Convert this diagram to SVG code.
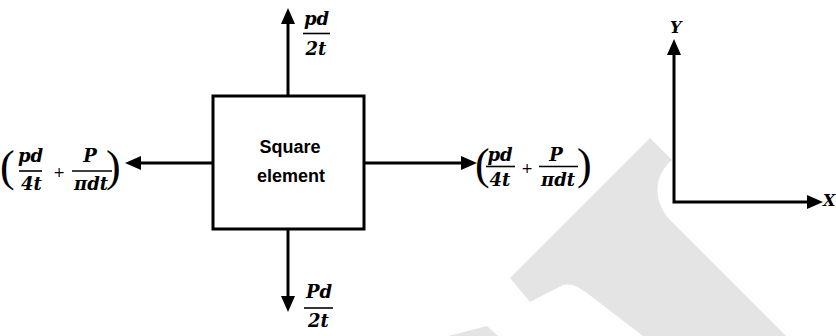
<svg xmlns="http://www.w3.org/2000/svg" width="836" height="336" viewBox="0 0 836 336">
<defs>
<style>
.ln{stroke:#000;stroke-width:3;fill:none}
.fr{stroke:#000;stroke-width:1.6}
.m{font-family:"DejaVu Serif","Liberation Serif",serif;font-weight:bold;font-style:italic;font-size:18px;fill:#000;text-anchor:middle}
.pl{font-family:"DejaVu Sans","Liberation Sans",sans-serif;font-size:14px;fill:#000;text-anchor:middle}
.par{font-family:"Liberation Serif","DejaVu Serif",serif;font-size:44px;fill:#000}
.lbl{font-family:"Liberation Sans","Arial",sans-serif;font-weight:bold;font-size:18px;fill:#000;text-anchor:middle}
.ax{font-family:"DejaVu Serif","Liberation Serif",serif;font-weight:bold;font-style:italic;font-size:16px;fill:#000}
</style>
<marker id="ah" viewBox="0 0 16 14" refX="0" refY="7" markerWidth="16" markerHeight="14" markerUnits="userSpaceOnUse" orient="auto-start-reverse">
<path d="M0,0 L16,7 L0,14 z" fill="#000"/>
</marker>
</defs>
<g id="watermark" fill="#e4e4e4">
<path d="M650,138 L672,160 C654,175 652,200 670,220 L786,336 L643,336 L587,293 C578,286 570,283 563,285 L530,302 L510,278 Z"/>
<path d="M448,336 L487,326 L498,336 Z"/>
</g>
<g id="connectors">
<path class="ln" d="M288,96 L288,24" marker-end="url(#ah)"/>
<path class="ln" d="M288,229 L288,296" marker-end="url(#ah)"/>
<path class="ln" d="M213,163 L141,163" marker-end="url(#ah)"/>
<path class="ln" d="M364,163 L461,163" marker-end="url(#ah)"/>
<path class="ln" d="M674,55 L674,202 L807,202" marker-start="url(#ah)" marker-end="url(#ah)"/>
</g>
<g id="square">
<rect class="ln" x="213" y="96" width="151" height="133" fill="#fff"/>
<text class="lbl" x="290" y="153">Square</text>
<text class="lbl" x="291" y="182">element</text>
</g>
<g id="label-top">
<text class="m" x="316.5" y="25">pd</text>
<line class="fr" x1="303" y1="33.5" x2="330" y2="33.5"/>
<text class="m" x="316" y="55">2t</text>
</g>
<g id="label-bottom">
<text class="m" x="319" y="298">Pd</text>
<line class="fr" x1="304" y1="308" x2="333" y2="308"/>
<text class="m" x="318.5" y="327">2t</text>
</g>
<g id="label-left">
<text class="par" x="0" y="180.5">(</text>
<text class="m" x="30.5" y="162">pd</text>
<line class="fr" x1="19" y1="171" x2="42" y2="171"/>
<text class="m" x="31.5" y="190">4t</text>
<text class="pl" x="59" y="177">+</text>
<text class="m" x="90" y="162">P</text>
<line class="fr" x1="72" y1="171" x2="112" y2="171"/>
<text class="m" x="91" y="190">πdt</text>
<text class="par" x="106" y="180.5">)</text>
</g>
<g id="label-right">
<text class="par" x="475" y="178.5">(</text>
<text class="m" x="500" y="161">pd</text>
<line class="fr" x1="486" y1="166.5" x2="515" y2="166.5"/>
<text class="m" x="500" y="186">4t</text>
<text class="pl" x="527" y="173">+</text>
<text class="m" x="556" y="161">P</text>
<line class="fr" x1="539" y1="166.5" x2="578" y2="166.5"/>
<text class="m" x="558" y="186">πdt</text>
<text class="par" x="577" y="178.5">)</text>
</g>
<g id="axes-labels">
<text class="ax" x="670" y="33">Y</text>
<text class="ax" x="823" y="206">X</text>
</g>
</svg>
